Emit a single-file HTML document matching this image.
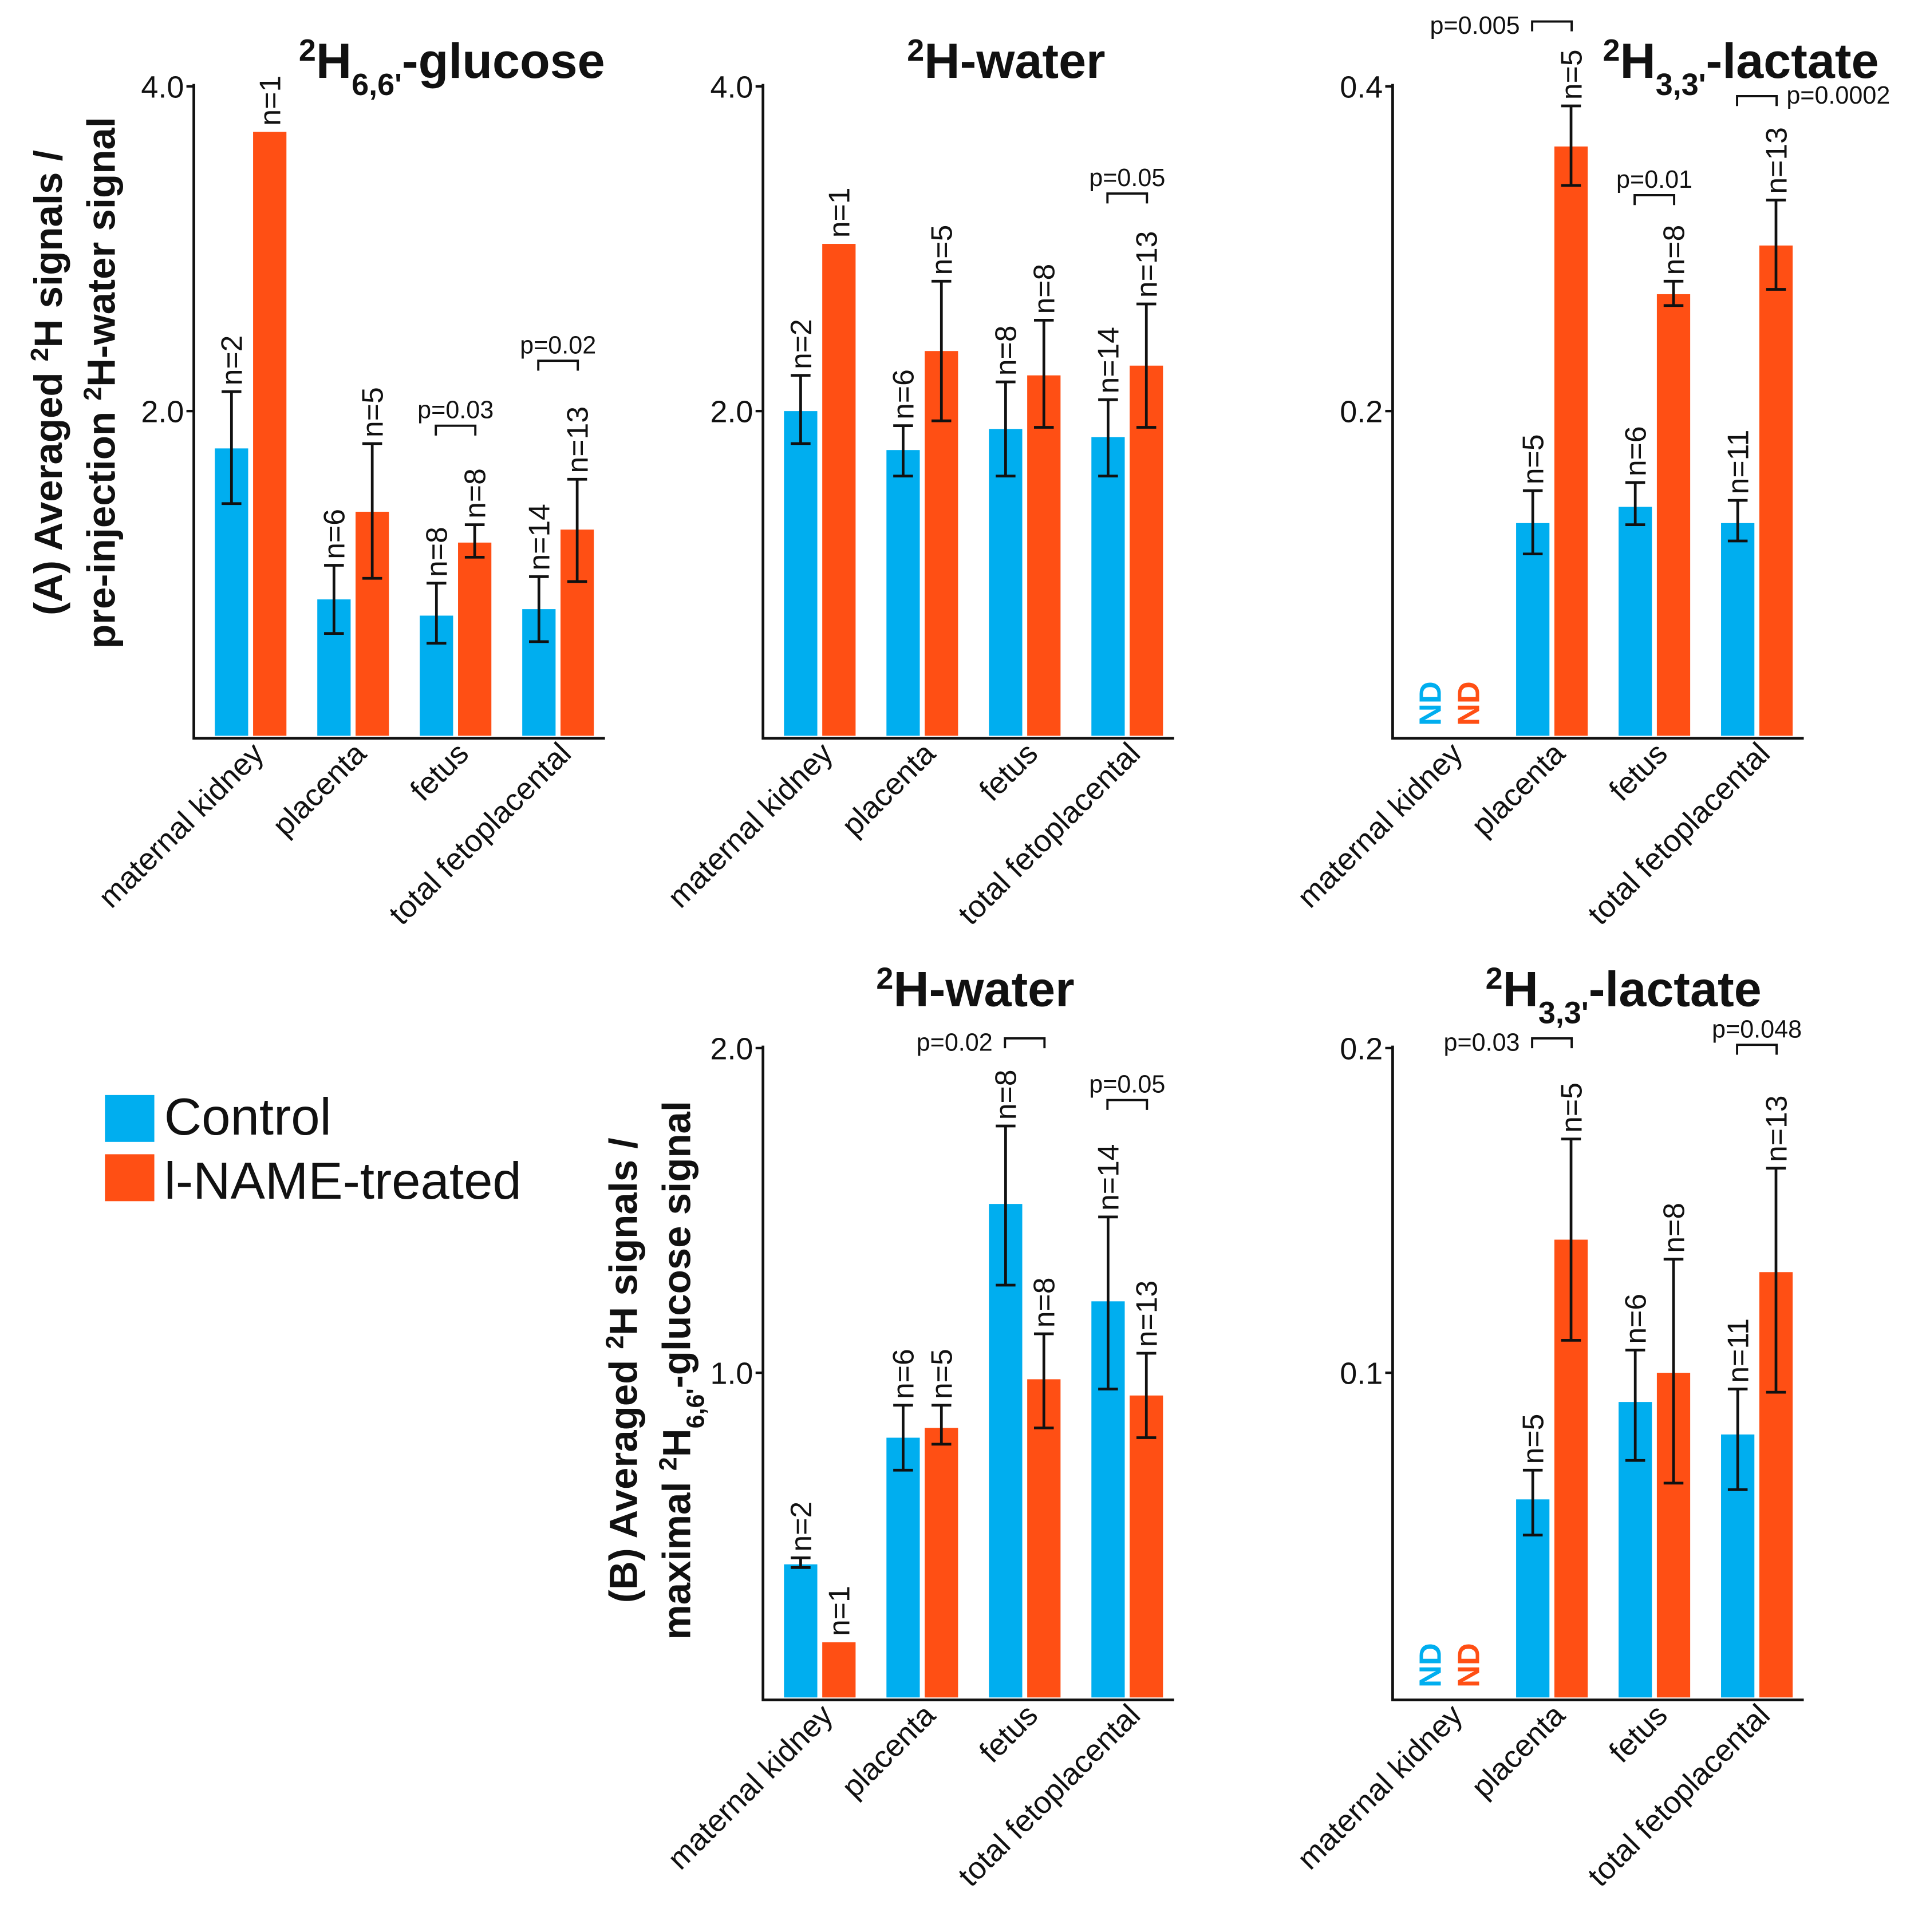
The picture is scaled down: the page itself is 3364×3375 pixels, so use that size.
<!DOCTYPE html>
<html><head><meta charset="utf-8"><style>
html,body{margin:0;padding:0;background:#fff;}
svg{display:block;}
text{font-family:"Liberation Sans",sans-serif;fill:#111;}
</style></head><body>
<svg id="fig" xmlns="http://www.w3.org/2000/svg" width="3364" height="3375" viewBox="0 0 1560 1565" preserveAspectRatio="none">
<g>
<rect x="85" y="887" width="40" height="38" fill="#00AEEF"/>
<rect x="85" y="935" width="40" height="38" fill="#FF4F14"/>
<text x="133" y="919" font-size="42">Control</text>
<text x="133" y="971" font-size="42">l-NAME-treated</text>
</g>
<g font-size="32" font-weight="bold">
<text transform="translate(50,310) rotate(-90)" text-anchor="middle">(A) Averaged  <tspan baseline-shift="super" font-size="20">2</tspan>H signals /</text>
<text transform="translate(93,310) rotate(-90)" text-anchor="middle">pre-injection <tspan baseline-shift="super" font-size="20">2</tspan>H-water signal</text>
</g>
<g font-size="32" font-weight="bold">
<text transform="translate(516,1110) rotate(-90)" text-anchor="middle">(B) Averaged <tspan baseline-shift="super" font-size="20">2</tspan>H signals /</text>
<text transform="translate(559,1110) rotate(-90)" text-anchor="middle">maximal <tspan baseline-shift="super" font-size="20">2</tspan>H<tspan baseline-shift="sub" font-size="20">6,6'</tspan>-glucose signal</text>
</g>
</svg>
<script>
const categories=["maternal kidney","placenta","fetus","total fetoplacental"];
// A1 glucose
const a1Ctrl=[1.77,0.84,0.74,0.78], a1CtrlLo=[1.43,0.63,0.57,0.58], a1CtrlHi=[2.12,1.05,0.94,0.98];
const a1Lna=[3.72,1.38,1.19,1.27], a1LnaLo=[null,0.97,1.10,0.95], a1LnaHi=[null,1.80,1.30,1.58];
const a1N=["n=2","n=1","n=6","n=5","n=8","n=8","n=14","n=13"];
// A2 water
const a2Ctrl=[2.0,1.76,1.89,1.84], a2CtrlLo=[1.8,1.6,1.6,1.6], a2CtrlHi=[2.22,1.91,2.18,2.07];
const a2Lna=[3.03,2.37,2.22,2.28], a2LnaLo=[null,1.94,1.9,1.9], a2LnaHi=[null,2.8,2.56,2.66];
const a2N=["n=2","n=1","n=6","n=5","n=8","n=8","n=14","n=13"];
// A3 lactate
const a3Ctrl=[null,0.131,0.141,0.131], a3CtrlLo=[null,0.112,0.13,0.12], a3CtrlHi=[null,0.151,0.156,0.145];
const a3Lna=[null,0.363,0.272,0.302], a3LnaLo=[null,0.339,0.265,0.275], a3LnaHi=[null,0.388,0.28,0.33];
const a3N=[null,null,"n=5","n=5","n=6","n=8","n=11","n=13"];
// B2 water
const b2Ctrl=[0.41,0.80,1.52,1.22], b2CtrlLo=[0.40,0.70,1.27,0.95], b2CtrlHi=[0.43,0.90,1.76,1.48];
const b2Lna=[0.17,0.83,0.98,0.93], b2LnaLo=[null,0.78,0.83,0.80], b2LnaHi=[null,0.90,1.12,1.06];
const b2N=["n=2","n=1","n=6","n=5","n=8","n=8","n=14","n=13"];
// B3 lactate
const b3Ctrl=[null,0.061,0.091,0.081], b3CtrlLo=[null,0.05,0.073,0.064], b3CtrlHi=[null,0.07,0.107,0.095];
const b3Lna=[null,0.141,0.10,0.131], b3LnaLo=[null,0.11,0.066,0.094], b3LnaHi=[null,0.172,0.135,0.163];
const b3N=[null,null,"n=5","n=5","n=6","n=8","n=11","n=13"];
// p-value annotations: group index, bracket value, text, placement
const a1P=[[2,1.91,"p=0.03","above"],[3,2.31,"p=0.02","above"]];
const a2P=[[3,3.34,"p=0.05","above"]];
const a3P=[[1,0.44,"p=0.005","left"],[2,0.333,"p=0.01","above"],[3,0.394,"p=0.0002","right"]];
const b2P=[[2,2.03,"p=0.02","left"],[3,1.84,"p=0.05","above"]];
const b3P=[[1,0.203,"p=0.03","left"],[3,0.201,"p=0.048","above"]];

const NS="http://www.w3.org/2000/svg";
const svg=document.getElementById('fig');
function mk(tag,attrs,parent){const e=document.createElementNS(NS,tag);for(const k in attrs)e.setAttribute(k,attrs[k]);(parent||svg).appendChild(e);return e;}

function panel(o){
  const g=mk('g',{});
  
  
  const y0=o.yBase, ymax=o.yTop;
  const yS=v=>y0-(v/o.max)*(y0-ymax);
  const gx=i=>o.x0+46+i*83;
  const ax=mk('path',{d:`M${o.x0} ${ymax-2}V${y0+2}H${o.x0+333}`,stroke:'#111','stroke-width':2.2,fill:'none'},g);
  
  
  o.ticks.forEach((t,i)=>{
    const y=yS(o.tickVals[i]);
    mk('line',{x1:o.x0-6,x2:o.x0,y1:y,y2:y,stroke:'#111','stroke-width':2},g);
    const tx=mk('text',{x:o.x0-8,y:y+9,'font-size':25,'text-anchor':'end'},g);
    tx.textContent=t;
    
    
  });
  categories.forEach((c,i)=>{
    const cx=gx(i)+12, cy=y0+16;
    const t=mk('text',{transform:`translate(${cx},${cy}) rotate(-45)`,'font-size':25,'text-anchor':'end'},g);
    t.textContent=c;
    
    
  });
  const series=[[o.ctrl,o.cLo,o.cHi,'#00AEEF',0],[o.lna,o.lLo,o.lHi,'#FF4F14',1]];
  series.forEach(([vals,lo,hi,col,s])=>{
    vals.forEach((v,i)=>{
      const bx=gx(i)-29+s*30+(s?1:0);
      const label=o.n[i*2+s];
      if(v===null){
        const nd=mk('text',{transform:`translate(${bx+22},${y0-8}) rotate(-90)`,'font-size':25,fill:col,'font-weight':'bold'},g);
        nd.textContent='ND';
        nd.setAttribute('style','fill:'+col);
        
        
        return;
      }
      const y=yS(v);
      const r=mk('rect',{x:bx,y:y,width:27,height:y0-y,fill:col},g);
      
      
      let topY=y;
      if(lo[i]!==null){
        const yl=yS(lo[i]), yh=yS(hi[i]), cx=bx+13.5;
        const e=mk('path',{d:`M${cx} ${yl}V${yh}M${cx-8} ${yl}H${cx+8}M${cx-8} ${yh}H${cx+8}`,stroke:'#111','stroke-width':2.2,fill:'none'},g);
        
        
        topY=Math.min(yh,y);
      }
      if(label){
        const t=mk('text',{transform:`translate(${bx+22},${topY-5}) rotate(-90)`,'font-size':24},g);
        t.textContent=label;
        
        
      }
    });
  });
  o.p.forEach(([gi,val,txt,pl])=>{
    const y=yS(val), x1=gx(gi)-16, x2=gx(gi)+16;
    const b=mk('path',{d:`M${x1} ${y+8}V${y}H${x2}V${y+8}`,stroke:'#111','stroke-width':1.8,fill:'none'},g);
    
    
    let a;
    if(pl==='above') a=mk('text',{x:(x1+x2)/2,y:y-6,'font-size':20,'text-anchor':'middle'},g);
    else if(pl==='left') a=mk('text',{x:x1-10,y:y+10,'font-size':20,'text-anchor':'end'},g);
    else a=mk('text',{x:x2+8,y:y+6,'font-size':20},g);
    a.textContent=txt;
    
    
  });
  const ti=mk('text',{x:o.tx,y:o.ty,'font-size':40,'font-weight':'bold','text-anchor':'middle'},g);
  ti.innerHTML=o.title;
  
  
}
const sup='<tspan baseline-shift="super" font-size="25">2</tspan>';
panel({name:'panel-a-glucose',x0:157,yBase:596,yTop:70,max:4,ticks:["4.0","2.0"],tickVals:[4,2],ctrl:a1Ctrl,cLo:a1CtrlLo,cHi:a1CtrlHi,lna:a1Lna,lLo:a1LnaLo,lHi:a1LnaHi,n:a1N,p:a1P,tx:366,ty:63,title:sup+'H<tspan baseline-shift="sub" font-size="25">6,6\'</tspan>-glucose'});
panel({name:'panel-a-water',x0:618,yBase:596,yTop:70,max:4,ticks:["4.0","2.0"],tickVals:[4,2],ctrl:a2Ctrl,cLo:a2CtrlLo,cHi:a2CtrlHi,lna:a2Lna,lLo:a2LnaLo,lHi:a2LnaHi,n:a2N,p:a2P,tx:815,ty:63,title:sup+'H-water'});
panel({name:'panel-a-lactate',x0:1128,yBase:596,yTop:70,max:0.4,ticks:["0.4","0.2"],tickVals:[0.4,0.2],ctrl:a3Ctrl,cLo:a3CtrlLo,cHi:a3CtrlHi,lna:a3Lna,lLo:a3LnaLo,lHi:a3LnaHi,n:a3N,p:a3P,tx:1410,ty:63,title:sup+'H<tspan baseline-shift="sub" font-size="25">3,3\'</tspan>-lactate'});
panel({name:'panel-b-water',x0:618,yBase:1375,yTop:849,max:2,ticks:["2.0","1.0"],tickVals:[2,1],ctrl:b2Ctrl,cLo:b2CtrlLo,cHi:b2CtrlHi,lna:b2Lna,lLo:b2LnaLo,lHi:b2LnaHi,n:b2N,p:b2P,tx:790,ty:815,title:sup+'H-water'});
panel({name:'panel-b-lactate',x0:1128,yBase:1375,yTop:849,max:0.2,ticks:["0.2","0.1"],tickVals:[0.2,0.1],ctrl:b3Ctrl,cLo:b3CtrlLo,cHi:b3CtrlHi,lna:b3Lna,lLo:b3LnaLo,lHi:b3LnaHi,n:b3N,p:b3P,tx:1315,ty:815,title:sup+'H<tspan baseline-shift="sub" font-size="25">3,3\'</tspan>-lactate'});
</script>
</body></html>
